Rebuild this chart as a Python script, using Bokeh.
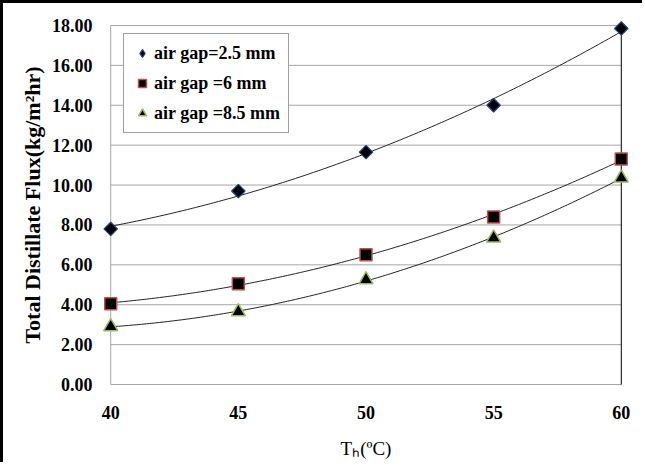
import numpy as np
from bokeh.plotting import figure
from bokeh.models import FixedTicker, NumeralTickFormatter, Legend, LegendItem
from bokeh.embed import file_html
from bokeh.resources import INLINE

# ---- data ----
temps = [40, 45, 50, 55, 60]
flux_gap_2_5 = [7.80, 9.70, 11.65, 14.00, 17.85]
flux_gap_6 = [4.05, 5.05, 6.50, 8.40, 11.30]
flux_gap_8_5 = [2.90, 3.65, 5.25, 7.35, 10.35]
series_labels = ["air gap=2.5 mm", "air gap =6 mm", "air gap =8.5 mm"]
x_ticks = [40, 45, 50, 55, 60]
y_ticks = [0, 2, 4, 6, 8, 10, 12, 14, 16, 18]
x_title = "Tₕ(ºC)"
y_title = "Total Distillate Flux(kg/m²hr)"

SERIF = "Liberation Serif"

p = figure(width=642, height=462,
           x_range=(39.6, 60.4), y_range=(-0.5, 18.5),
           min_border_left=97, min_border_right=14,
           min_border_top=12, min_border_bottom=71,
           output_backend="svg", toolbar_location=None)
p.styles = {"border-left": "3px solid black", "border-top": "3px solid black"}
p.outline_line_color = None
p.background_fill_color = "white"
p.border_fill_color = "white"

# grid / frame lines drawn only across the data extent
p.xgrid.visible = False
p.ygrid.visible = False
n = len(y_ticks)
p.segment(x0=[x_ticks[0]] * n, x1=[x_ticks[-1]] * n, y0=y_ticks, y1=y_ticks,
          line_color="#a6a6a6", line_width=1)
p.segment(x0=[x_ticks[0]], x1=[x_ticks[0]], y0=[y_ticks[0]], y1=[y_ticks[-1]],
          line_color="#a6a6a6", line_width=1)
p.segment(x0=[x_ticks[-1]], x1=[x_ticks[-1]], y0=[y_ticks[0]], y1=[y_ticks[-1]],
          line_color="black", line_width=1)

# axes
for ax in (p.xaxis[0], p.yaxis[0]):
    ax.axis_line_color = None
    ax.major_tick_line_color = None
    ax.minor_tick_line_color = None
    ax.major_tick_out = 0
    ax.major_tick_in = 0
    ax.major_label_text_font = SERIF
    ax.major_label_text_font_style = "bold"
    ax.major_label_text_font_size = "18px"
    ax.major_label_text_color = "black"

p.xaxis.ticker = FixedTicker(ticks=x_ticks)
p.yaxis.ticker = FixedTicker(ticks=y_ticks)
p.yaxis.formatter = NumeralTickFormatter(format="0.00")
p.xaxis.major_label_standoff = 11
p.yaxis.major_label_standoff = 8

p.yaxis.axis_label = y_title
p.yaxis.axis_label_text_font = SERIF
p.yaxis.axis_label_text_font_style = "bold"
p.yaxis.axis_label_text_font_size = "22px"
p.yaxis.axis_label_text_color = "black"
p.yaxis.axis_label_standoff = 4

p.xaxis.axis_label = x_title
p.xaxis.axis_label_text_font = SERIF
p.xaxis.axis_label_text_font_style = "normal"
p.xaxis.axis_label_text_font_size = "19px"
p.xaxis.axis_label_text_color = "black"
p.xaxis.axis_label_standoff = 16

# trend lines (2nd order polynomial fits of each series)
xs = np.linspace(temps[0], temps[-1], 200)
for vals in (flux_gap_2_5, flux_gap_6, flux_gap_8_5):
    c = np.polyfit(temps, vals, 2)
    p.line(xs, np.polyval(c, xs), line_color="#222222", line_width=1)

# diamond series: a slim diamond (used as legend swatch) under a wider rotated square
r1_leg = p.scatter(temps, flux_gap_2_5, marker="diamond", size=11,
                   fill_color="black", line_color="#1f3f8f", line_width=1.2)
r1 = p.scatter(temps, flux_gap_2_5, marker="square", angle=np.pi / 4, size=9.5,
               fill_color="black", line_color="#1f3f8f", line_width=1.2)
r2 = p.scatter(temps, flux_gap_6, marker="square", size=12,
               fill_color="black", line_color="#c0504d", line_width=1.5)
r3 = p.scatter(temps, flux_gap_8_5, marker="triangle", size=14,
               fill_color="black", line_color="#9bbb59", line_width=1.5)

legend = Legend(items=[LegendItem(label=series_labels[0], renderers=[r1_leg]),
                       LegendItem(label=series_labels[1], renderers=[r2]),
                       LegendItem(label=series_labels[2], renderers=[r3])],
                location=(23, 261),
                padding=8, spacing=8, margin=0,
                label_height=22, glyph_height=22, glyph_width=20, label_standoff=2,
                label_text_font=SERIF, label_text_font_style="bold",
                label_text_font_size="18px", label_text_color="black",
                border_line_color="#404040", border_line_width=1,
                background_fill_color="white", background_fill_alpha=1)
p.add_layout(legend, "center")

open("out.html", "w").write(file_html(p, INLINE))
